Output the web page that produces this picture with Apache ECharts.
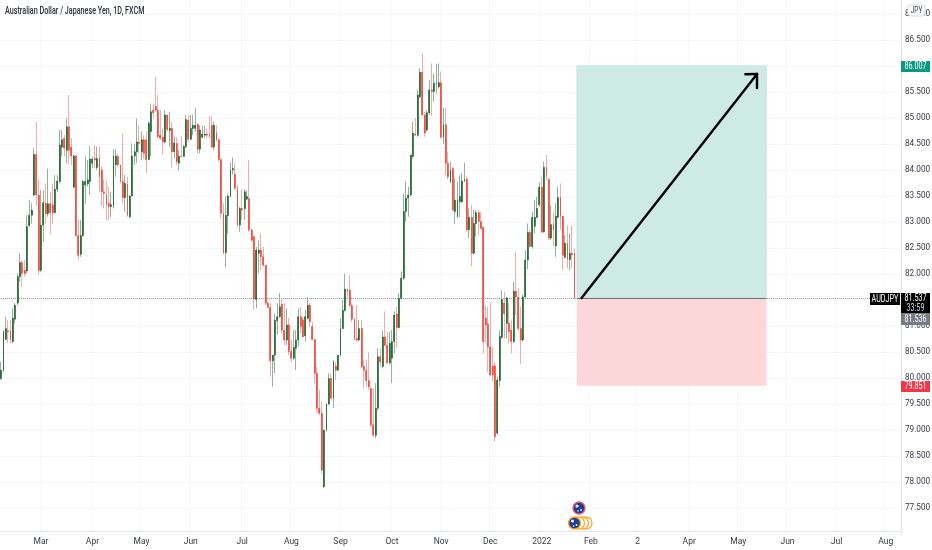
<!DOCTYPE html>
<html>
<head>
<meta charset="utf-8">
<style>html,body{margin:0;padding:0;background:#fff}#c{width:932px;height:550px}</style>
<script src="https://cdn.jsdelivr.net/npm/echarts@6/dist/echarts.min.js"></script>
</head>
<body>
<div id="c"></div>
<script>
const opens=[79.99,80.15,80.74,80.91,80.91,80.70,81.13,81.44,81.95,82.22,
82.07,82.06,82.93,83.13,83.52,84.30,83.52,82.07,82.94,83.36,
83.16,83.35,83.33,83.18,83.63,83.78,84.44,84.61,84.38,84.83,
84.44,83.67,84.27,82.74,82.38,82.74,83.71,83.73,83.78,84.13,
84.22,84.05,84.24,84.00,83.58,83.52,83.36,83.30,83.30,84.10,
84.26,84.10,83.78,83.47,83.73,83.10,83.50,84.27,84.35,84.54,
84.35,84.58,84.58,84.20,84.74,85.15,85.22,85.15,84.67,84.63,84.54,85.06,84.76,84.80,
84.35,84.51,84.13,84.27,84.26,84.45,84.96,84.59,84.80,84.80,
84.88,84.40,84.63,84.67,84.69,84.69,84.86,84.44,84.72,84.58,
84.20,83.17,82.41,83.12,83.49,84.00,83.92,83.65,82.94,83.26,
83.26,83.44,83.45,82.85,82.72,81.51,82.40,82.46,82.33,82.17,
81.44,81.36,80.33,80.44,81.10,81.18,81.42,80.92,80.73,81.02,
80.51,80.38,80.57,80.73,
81.18,81.12,80.81,81.15,81.40,80.99,80.74,80.09,79.42,79.32,
77.91,79.00,79.50,79.99,79.61,80.23,80.15,80.44,80.95,81.30,
81.71,81.69,81.39,81.13,80.76,80.73,80.95,80.22,80.15,79.95,
79.80,79.10,78.90,79.42,80.41,80.22,80.79,80.63,80.29,80.38,
80.70,81.23,80.97,81.53,81.92,83.20,83.46,83.52,84.26,84.69,
84.67,85.41,85.88,85.06,84.77,85.10,85.54,85.51,85.65,85.60,
85.68,84.63,84.87,84.13,
83.76,84.03,83.20,83.10,83.39,83.39,83.78,83.82,82.85,83.09,
82.40,82.97,83.18,83.01,82.90,81.15,81.04,80.60,80.23,80.23,
78.94,79.95,80.78,81.44,81.05,81.06,80.92,80.70,81.67,81.55,
80.95,80.73,81.56,82.27,82.80,82.53,82.92,83.09,83.33,83.67,
82.81,84.05,83.82,82.69,82.95,82.54,83.09,83.47,83.11,82.32,
82.59,82.28,82.40,82.40];
const closes=[80.15,80.89,80.95,80.89,80.74,81.15,81.40,81.95,82.22,82.01,
82.01,82.91,83.13,83.23,84.30,83.52,82.07,82.94,83.37,83.16,
83.35,83.18,83.18,83.63,83.79,84.48,84.58,84.42,84.83,84.38,
84.27,84.27,82.74,82.36,82.74,83.78,83.78,83.81,84.21,84.21,
84.19,84.22,83.87,83.58,83.55,83.33,83.30,83.33,84.27,84.27,
84.10,83.78,83.47,83.74,83.13,83.50,84.27,84.35,84.54,84.51,
84.58,84.32,84.20,84.90,85.12,85.10,85.15,84.64,84.61,84.54,85.06,84.78,84.80,84.35,
84.52,84.16,84.26,84.26,84.45,84.97,84.59,84.80,84.86,84.86,
84.40,84.77,84.69,84.69,84.67,84.65,84.44,84.86,84.58,84.20,
83.17,82.40,83.13,83.50,84.00,84.03,83.65,82.94,83.26,83.23,
83.58,83.49,82.85,82.65,81.52,82.46,82.46,82.33,82.17,81.44,
81.36,80.33,80.44,81.11,81.18,81.37,80.92,80.73,81.02,80.51,
80.38,80.59,80.73,81.18,
80.99,80.79,81.18,81.40,81.08,80.74,80.09,79.42,79.32,78.23,
79.00,79.50,79.99,79.61,80.31,80.15,80.44,80.95,81.30,81.71,
81.66,81.39,81.13,80.74,80.73,80.95,80.22,80.15,79.95,79.83,
79.10,78.90,79.42,80.41,80.31,80.79,80.63,80.29,80.67,80.70,
81.21,80.97,81.53,81.92,83.20,83.46,83.52,84.29,84.71,84.67,
85.44,85.88,85.06,84.71,85.10,85.54,85.51,85.67,85.68,85.68,
84.63,84.87,84.13,83.87,
84.00,83.23,83.42,83.42,83.49,83.79,83.82,82.85,83.09,82.40,
82.97,83.18,83.01,82.88,80.70,81.02,80.60,80.06,80.06,78.87,
79.96,80.80,81.51,81.24,81.54,80.89,80.70,81.67,81.56,80.95,
80.73,81.56,82.27,82.80,82.53,83.09,83.09,83.26,83.67,82.81,
84.05,83.90,82.69,82.95,82.85,83.11,83.47,83.10,82.36,82.59,
82.28,82.40,82.37,81.537];
const lows=[79.96,80.12,80.73,80.67,80.67,80.67,81.05,81.40,81.85,81.75,
81.95,82.01,82.91,82.97,83.49,83.30,81.98,82.04,82.62,82.97,
83.10,82.78,82.97,83.17,83.58,83.74,84.26,84.26,84.13,84.11,
84.10,83.65,82.72,82.28,82.33,82.72,83.35,83.68,83.52,84.03,
84.03,84.00,83.58,83.30,83.26,83.04,83.04,83.10,83.26,83.87,
84.06,83.74,83.36,83.20,83.10,83.07,83.49,84.10,84.13,84.32,
84.19,84.22,83.94,84.19,84.26,84.99,85.12,84.61,84.58,84.29,84.51,84.74,84.45,84.05,
84.22,84.10,83.99,84.26,84.26,84.42,84.54,84.58,84.67,84.74,
84.32,84.32,84.61,84.61,84.61,84.61,84.42,84.38,84.54,84.16,
83.07,82.38,82.13,82.78,83.47,83.91,83.62,82.91,82.81,83.04,
83.04,83.42,82.81,82.62,81.32,81.34,82.01,82.07,82.14,81.40,
81.34,80.03,79.83,80.09,80.83,81.15,80.86,80.63,80.63,80.44,
80.31,80.35,80.15,80.60,
80.86,80.79,80.70,81.12,80.99,80.73,79.90,79.32,79.29,78.17,
77.88,78.97,79.48,79.59,79.42,79.96,80.15,80.41,80.94,81.28,
81.56,81.37,81.08,80.73,80.70,80.70,80.19,79.80,79.83,79.77,
79.06,78.87,78.84,79.38,80.22,80.19,80.62,80.28,80.25,79.90,
80.47,80.57,80.95,81.51,81.88,83.01,83.10,83.49,84.22,84.67,
84.64,85.38,85.04,84.64,84.74,85.06,85.04,85.31,85.47,85.57,
84.61,84.50,83.90,83.82,
83.76,83.20,82.97,83.09,83.09,83.37,83.78,82.81,82.69,82.15,
82.37,82.72,82.75,82.85,80.47,80.67,80.12,80.03,79.93,78.78,
78.90,79.83,80.76,80.76,80.76,80.67,80.47,80.67,81.21,80.92,
80.27,80.70,81.53,82.09,82.51,82.49,82.78,83.07,83.29,82.79,
82.79,83.81,82.65,82.65,82.54,82.33,83.07,82.85,82.08,82.30,
82.11,82.08,82.11,81.53];
const highs=[80.31,80.92,81.18,81.12,81.12,81.34,81.44,82.01,82.40,82.27,
82.27,83.13,83.42,83.36,84.42,84.93,83.81,83.61,83.61,83.74,
84.03,83.58,83.74,83.90,83.90,84.77,84.77,84.67,84.99,85.44,
84.61,84.29,84.29,83.04,83.04,83.81,84.26,84.19,84.46,84.26,
84.48,84.45,84.45,84.06,83.81,83.81,83.68,83.58,84.40,84.40,
84.32,84.10,84.70,83.90,83.87,83.52,84.51,84.51,84.99,84.86,
84.74,84.67,84.74,84.93,85.28,85.28,85.79,85.44,85.15,84.80,85.15,85.06,85.12,84.93,
84.64,84.63,84.38,84.65,84.48,85.06,85.06,85.06,85.06,85.19,
84.90,84.86,84.85,84.85,84.80,85.03,85.04,84.93,84.86,84.61,
84.22,83.36,83.49,83.55,84.14,84.24,84.13,83.71,83.29,83.63,
83.63,83.61,84.19,82.86,82.72,82.52,82.65,82.79,82.52,82.17,
81.47,81.44,80.44,81.24,81.44,81.63,81.53,81.44,81.34,81.15,
80.73,80.92,80.92,81.34,
81.37,81.18,81.31,81.56,81.44,81.08,80.76,80.22,79.77,79.54,
79.00,79.51,80.09,80.09,80.35,80.31,80.44,81.15,81.50,82.01,
81.72,81.98,81.44,81.15,81.40,81.12,81.12,80.35,80.35,80.49,
79.83,79.80,79.90,80.57,80.57,80.92,81.28,80.89,80.89,80.92,
81.28,81.37,81.63,82.05,83.55,83.78,83.68,84.29,84.93,85.00,
85.54,85.96,86.24,85.12,85.15,85.73,86.05,85.86,86.04,86.05,
85.89,85.19,85.19,84.35,
84.16,84.06,83.84,83.78,83.90,83.94,84.14,83.87,83.26,83.33,
83.23,83.23,83.23,83.20,82.91,81.40,81.37,81.45,80.60,80.31,
80.03,80.92,81.69,81.66,81.56,81.44,81.11,81.85,82.43,81.73,
81.37,81.60,82.46,82.97,82.85,83.20,83.42,83.49,83.76,83.87,
84.16,84.29,83.84,83.33,83.20,83.36,83.68,83.74,83.11,82.75,
82.94,82.78,82.94,82.49];

const yTicks={min:77,max:87.5,step:0.5};
const xLabels=['Mar','Apr','May','Jun','Jul','Aug','Sep','Oct','Nov','Dec','2022','Feb','2','Apr','May','Jun','Jul','Aug'];
const xLabelBars=[17,39,60,81,103,124,145,167,188,209,231,252,272,294,315,336,357,378];
const barSlots=385;
const symbolName='AUDJPY';
const chartTitle='Australian Dollar / Japanese Yen, 1D, FXCM';
const lastPrice=81.537, bidPrice=81.536, countdown='33:59', quoteCcy='JPY';
const targetPrice=86.007, stopPrice=79.851;
const toolStartBar=246, toolEndBar=327;
const arrowStart=[248,81.537], arrowTip=[323,85.846], arrowArmA=[318,85.84], arrowArmB=[323,85.577];

const categories=[];
{const d=new Date(Date.UTC(2021,1,4));
 while(categories.length<barSlots){
  const w=d.getUTCDay();
  if(w!==0&&w!==6)categories.push(d.toISOString().slice(0,10));
  d.setUTCDate(d.getUTCDate()+1);
 }}
const labelAt={};xLabelBars.forEach((b,i)=>labelAt[b]=xLabels[i]);

const UP='#0c5a20',DOWN='#f4372c',UPW='#93b29b',DOWNW='#f7aba6';
const TXT='#363a45',AXF='Roboto,"Noto Sans",sans-serif';
const NARROW=0.72;

const wickData=opens.map((o,i)=>[o,closes[i],lows[i],highs[i]]);
const bodyData=opens.map((o,i)=>[o,closes[i],Math.min(o,closes[i]),Math.max(o,closes[i])]);

const chart=echarts.init(document.getElementById('c'),null,{renderer:'canvas'});

function tagText(x,y,text,color){
 return {type:'text',x,y,scaleX:NARROW,style:{text,fill:color,font:'10px '+AXF,align:'center',verticalAlign:'middle'},z:51};
}
function tag(x,y,w,h,fill,text,color){
 return {type:'group',children:[
  {type:'rect',shape:{x,y,width:w,height:h},style:{fill},z:50},
  tagText(x+w/2,y+h/2,text,color)
 ]};
}
function flag(cx,cy,ring){
 return [
  {type:'circle',shape:{cx,cy,r:6},style:{fill:'#1f3f94',stroke:ring,lineWidth:1.4},z:42},
  {type:'circle',shape:{cx:cx-2,cy:cy-2,r:1.6},style:{fill:'#e9edf7'},z:43},
  {type:'circle',shape:{cx:cx+2,cy:cy+2,r:0.9},style:{fill:'#ffffff'},z:43},
  {type:'circle',shape:{cx:cx-1,cy:cy+3,r:0.8},style:{fill:'#ffffff'},z:43}
 ];
}

chart.setOption({
 animation:false,
 backgroundColor:'#ffffff',
 grid:{left:0,right:31,top:-12,height:546,outerBoundsMode:'none'},
 xAxis:{type:'category',data:categories,boundaryGap:true,offset:-3,
  axisLine:{show:true,lineStyle:{color:'#e3e5ea',width:1}},
  axisTick:{show:false},
  axisLabel:{interval:i=>labelAt[i]!==undefined,formatter:(v,i)=>labelAt[i]||'',color:TXT,fontFamily:AXF,fontSize:8.5,margin:6,hideOverlap:false},
  splitLine:{show:true,interval:i=>labelAt[i]!==undefined,lineStyle:{color:'#f6f7fa',width:1}}
 },
 yAxis:{type:'value',position:'right',min:yTicks.min,max:yTicks.max,interval:yTicks.step,scale:true,
  axisLine:{show:true,lineStyle:{color:'#dfe1e6',width:1}},
  axisTick:{show:false},
  axisLabel:{color:TXT,fontFamily:AXF,fontSize:8.2,margin:4,formatter:v=>v.toFixed(3),showMinLabel:false,showMaxLabel:false},
  splitLine:{show:true,lineStyle:{color:'#f5f6f9',width:1}}
 },
 series:[
  {name:'wicks',type:'candlestick',data:wickData,barWidth:1,clip:false,z:3,silent:true,
   itemStyle:{color:UPW,color0:DOWNW,borderColor:UPW,borderColor0:DOWNW,borderColorDoji:UPW,borderWidth:1},
   markArea:{silent:true,z:1,data:[
    [{xAxis:categories[toolStartBar],yAxis:lastPrice,itemStyle:{color:'#cdebe4',borderWidth:0.5,borderColor:'#b5dcd3'}},{xAxis:categories[toolEndBar],yAxis:targetPrice}],
    [{xAxis:categories[toolStartBar],yAxis:stopPrice,itemStyle:{color:'#fcd7da'}},{xAxis:categories[toolEndBar],yAxis:lastPrice}]
   ]},
   markLine:{silent:true,z:2,symbol:'none',label:{show:false},animation:false,data:[
    [{coord:[categories[0],lastPrice],lineStyle:{color:'#858992',width:1,type:[1,1]}},{coord:[categories[barSlots-1],lastPrice]}],
    [{coord:[categories[toolStartBar],lastPrice],lineStyle:{color:'#6f737c',width:1,type:'solid'}},{coord:[categories[toolEndBar],lastPrice]}]
   ]}
  },
  {name:'bodies',type:'candlestick',data:bodyData,barWidth:1.4,clip:false,z:4,silent:true,
   itemStyle:{color:UP,color0:DOWN,borderColor:UP,borderColor0:DOWN,borderColorDoji:UP,borderWidth:0.5},
   markLine:{silent:true,z:10,symbol:'none',label:{show:false},animation:false,
    lineStyle:{color:'#000000',width:2.4,type:'solid',cap:'round'},
    data:[
     [{coord:[categories[arrowStart[0]],arrowStart[1]]},{coord:[categories[arrowTip[0]],arrowTip[1]]}],
     [{coord:[categories[arrowTip[0]],arrowTip[1]]},{coord:[categories[arrowArmA[0]],arrowArmA[1]]}],
     [{coord:[categories[arrowTip[0]],arrowTip[1]]},{coord:[categories[arrowArmB[0]],arrowArmB[1]]}]
    ]}
  }
 ],
 graphic:[
  {type:'text',x:5,y:11,scaleX:NARROW,style:{text:chartTitle,fill:'#2a2e39',font:'500 10px '+AXF,align:'left',verticalAlign:'middle'},z:51},
  tag(901,61,29,11,'#089981',targetPrice.toFixed(3),'#ffffff'),
  tag(901,381,29,11,'#f23645',stopPrice.toFixed(3),'#ffffff'),
  tag(870,293,30,12,'#000000',symbolName,'#ffffff'),
  {type:'rect',shape:{x:901,y:293,width:29,height:20},style:{fill:'#000000'},z:50},
  tagText(915.5,298.5,lastPrice.toFixed(3),'#ffffff'),
  tagText(915.5,308,countdown,'#d5d7dc'),
  tag(901,313,29,12,'#787b86',bidPrice.toFixed(3),'#ffffff'),
  {type:'rect',shape:{x:908,y:5,width:17,height:11,r:3},style:{fill:'#ffffff',stroke:'#d5d7dc',lineWidth:1},z:50},
  {type:'text',x:916.5,y:10.5,scaleX:NARROW,style:{text:quoteCcy,fill:TXT,font:'9px '+AXF,align:'center',verticalAlign:'middle'},z:51},
  ...flag(579,508,'#ef5a6f'),
  {type:'circle',shape:{cx:586,cy:523,r:6},style:{fill:'#ffffff',stroke:'#f5b041',lineWidth:1.4},z:40},
  {type:'circle',shape:{cx:582.5,cy:523,r:6},style:{fill:'#ffffff',stroke:'#f5b041',lineWidth:1.4},z:40},
  {type:'circle',shape:{cx:578.5,cy:523,r:6},style:{fill:'#ffffff',stroke:'#f5b041',lineWidth:1.4},z:41},
  ...flag(574.5,523,'#f5a623')
 ]
});
</script>
</body>
</html>
